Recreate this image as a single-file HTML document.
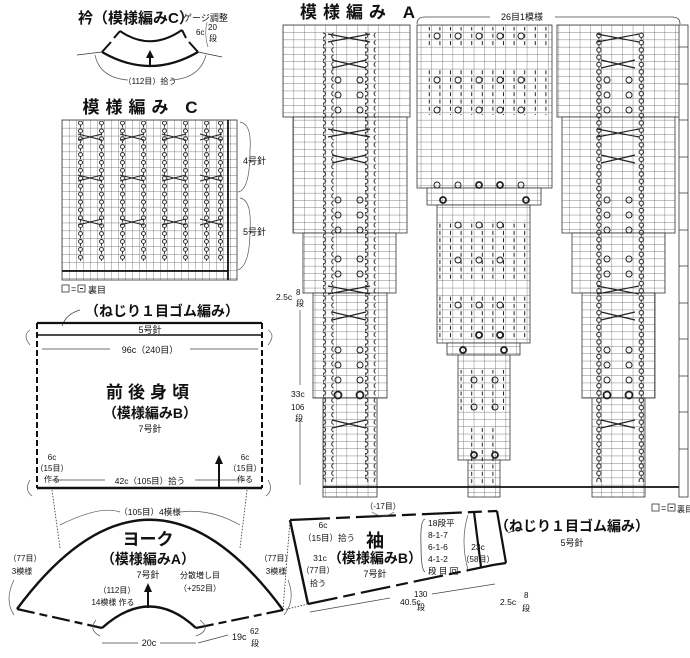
<!DOCTYPE html>
<html><head><meta charset="utf-8"><style>
html,body{margin:0;padding:0;background:#fff;}
svg{display:block;}
text{font-family:"Liberation Sans","Noto Sans CJK JP",sans-serif;fill:#111;}
</style></head><body>
<svg width="690" height="658" viewBox="0 0 690 658" xmlns="http://www.w3.org/2000/svg">
<defs>
<pattern id="ga" x="283" y="25" width="10.6" height="7.3" patternUnits="userSpaceOnUse">
<rect width="10.6" height="7.3" fill="#fff"/>
<path d="M0 0H10.6M0 0V7.3" stroke="#555" stroke-width="0.7" fill="none"/>
</pattern>
<pattern id="gc" x="62" y="120" width="7.0" height="7.9" patternUnits="userSpaceOnUse">
<rect width="7" height="7.9" fill="#fff"/>
<path d="M0 0H7M0 0V7.9" stroke="#555" stroke-width="0.7" fill="none"/>
</pattern>
<pattern id="tw" x="0" y="25" width="10.6" height="7.3" patternUnits="userSpaceOnUse">
<circle cx="5.3" cy="3" r="2.2" fill="none" stroke="#222" stroke-width="1"/>
<path d="M5.3 5.2V7" stroke="#222" stroke-width="1"/>
</pattern>
<pattern id="twc" x="0" y="120" width="7" height="7.9" patternUnits="userSpaceOnUse">
<circle cx="3.5" cy="3" r="2" fill="none" stroke="#222" stroke-width="0.9"/>
<path d="M3.5 5V7.5" stroke="#222" stroke-width="0.9"/>
</pattern>
<pattern id="ticks" x="0" y="25" width="10.6" height="7.3" patternUnits="userSpaceOnUse">
<path d="M5.3 1.5V5.5" stroke="#222" stroke-width="1"/>
</pattern>
</defs>

<!-- ===== Collar ===== -->
<text x="78" y="23" font-size="15" font-weight="bold">衿（模様編みC）</text>
<text x="183" y="21" font-size="9">ゲージ調整</text>
<path d="M120 31 Q150 52 182 30" fill="none" stroke="#111" stroke-width="2"/>
<path d="M102 52 Q150 80 198 52" fill="none" stroke="#111" stroke-width="2.2"/>
<path d="M102 52 L111 42 M114 38 L120 31 M198 52 L189 42 M186 38 L182 30" stroke="#111" stroke-width="2"/>
<path d="M77 55 L102 52 M198 52 L222 57" stroke="#333" stroke-width="0.8"/>
<path d="M95 55 Q100 78 128 80 M172 80 Q200 78 206 55" fill="none" stroke="#555" stroke-width="0.7"/>
<path d="M150 65 V56" stroke="#111" stroke-width="2"/><path d="M146 58 L150 50 L154 58Z" fill="#111"/>
<text x="150" y="84" font-size="8" text-anchor="middle">（112目）拾う</text>
<text x="196" y="35" font-size="8">6c</text>
<text x="208" y="30" font-size="8">20</text><text x="209" y="41" font-size="8">段</text>
<path d="M207 22 Q204 35 208 47" fill="none" stroke="#555" stroke-width="0.6"/>

<!-- ===== Pattern C ===== -->
<text x="143" y="113" font-size="17" font-weight="bold" text-anchor="middle" letter-spacing="6">模様編み C</text>
<rect x="62" y="120" width="175" height="160" fill="url(#gc)" stroke="#333" stroke-width="0.8"/>
<path d="M228 120 V280" stroke="#111" stroke-width="1.8"/>
<path d="M62 271 H228" stroke="#111" stroke-width="1.8"/>
<g>
<rect x="76" y="121" width="7" height="140" fill="url(#twc)"/>
<rect x="97" y="121" width="7" height="140" fill="url(#twc)"/>
<rect x="118" y="121" width="7" height="140" fill="url(#twc)"/>
<rect x="139" y="121" width="7" height="140" fill="url(#twc)"/>
<rect x="160" y="121" width="7" height="140" fill="url(#twc)"/>
<rect x="181" y="121" width="7" height="140" fill="url(#twc)"/>
<rect x="202" y="121" width="7" height="140" fill="url(#twc)"/>
<rect x="216" y="121" width="7" height="140" fill="url(#twc)"/>
</g>
<path d="M78 134 L102 140 M78 140 L102 134 M120 134 L144 140 M120 140 L144 134 M162 134 L186 140 M162 140 L186 134 M200 134 L222 140 M200 140 L222 134
M78 175 L102 181 M78 181 L102 175 M120 175 L144 181 M120 181 L144 175 M162 175 L186 181 M162 181 L186 175 M200 175 L222 181 M200 181 L222 175
M78 219 L102 225 M78 225 L102 219 M120 219 L144 225 M120 225 L144 219 M162 219 L186 225 M162 225 L186 219 M200 219 L222 225 M200 225 L222 219" stroke="#222" stroke-width="1"/>
<path d="M240 122 Q252 124 250 150 Q250 190 238 192 M240 198 Q252 200 250 230 Q250 265 238 270" fill="none" stroke="#555" stroke-width="0.7"/>
<text x="243" y="164" font-size="9">4号針</text>
<text x="243" y="235" font-size="9">5号針</text>
<rect x="62" y="285" width="7" height="7" fill="none" stroke="#333" stroke-width="0.8"/>
<text x="71" y="292" font-size="9">=</text>
<rect x="78" y="285" width="7" height="7" fill="none" stroke="#333" stroke-width="0.8"/><path d="M80 288.5H83" stroke="#222"/>
<text x="88" y="293" font-size="9">裏目</text>

<!-- ===== Body ===== -->
<text x="85" y="316" font-size="14" font-weight="bold">（ねじり１目ゴム編み）</text>
<path d="M80 310 Q66 314 62 326" fill="none" stroke="#444" stroke-width="0.7"/>
<path d="M37 323 H262" stroke="#111" stroke-width="2.2"/>
<path d="M37 335 H262" stroke="#111" stroke-width="1.6"/>
<path d="M37 488 H262" stroke="#111" stroke-width="2.4"/>
<path d="M37 323 V488 M262 323 V488" stroke="#111" stroke-width="2" stroke-dasharray="6 3"/>
<text x="150" y="333" font-size="9" text-anchor="middle">5号針</text>
<path d="M42 349 H110 M190 349 H258" stroke="#444" stroke-width="0.7"/>
<text x="150" y="353" font-size="9" text-anchor="middle">96c（240目）</text>
<text x="150" y="398" font-size="17" font-weight="bold" text-anchor="middle" letter-spacing="5">前後身頃</text>
<text x="150" y="418" font-size="14" font-weight="bold" text-anchor="middle">（模様編みB）</text>
<text x="150" y="432" font-size="9" text-anchor="middle">7号針</text>
<text x="52" y="460" font-size="8" text-anchor="middle">6c</text>
<text x="52" y="471" font-size="8" text-anchor="middle">（15目）</text>
<text x="52" y="482" font-size="8" text-anchor="middle">作る</text>
<text x="245" y="460" font-size="8" text-anchor="middle">6c</text>
<text x="245" y="471" font-size="8" text-anchor="middle">（15目）</text>
<text x="245" y="482" font-size="8" text-anchor="middle">作る</text>
<path d="M52 480 H105 M195 480 H245" stroke="#444" stroke-width="0.7"/>
<text x="150" y="484" font-size="8.5" text-anchor="middle">42c（105目）拾う</text>
<path d="M219 488 V462" stroke="#111" stroke-width="2"/><path d="M215 464 L219 455 L223 464Z" fill="#111"/>
<path d="M30 480 Q24 490 32 496 M268 480 Q274 490 266 496 M30 330 Q22 335 30 345 M268 330 Q276 335 268 345" fill="none" stroke="#555" stroke-width="0.7"/>
<path d="M52 490 L60 548 M247 490 L240 548" stroke="#333" stroke-width="0.8" stroke-dasharray="1.5 1.5"/>

<!-- ===== Yoke ===== -->
<path d="M17 609 Q150 430 283 610" fill="none" stroke="#111" stroke-width="2.4"/>
<path d="M102 628 Q150 585 196 628" fill="none" stroke="#111" stroke-width="2.4"/>
<path d="M17 609 L102 628 M196 628 L283 610" stroke="#111" stroke-width="2.2" stroke-dasharray="18 5 8 5"/>
<path d="M60 525 Q100 505 120 512 M180 512 Q210 508 240 525" fill="none" stroke="#555" stroke-width="0.7"/>
<text x="150" y="515" font-size="8.5" text-anchor="middle">（105目）4模様</text>
<text x="148" y="545" font-size="17" font-weight="bold" text-anchor="middle">ヨーク</text>
<text x="148" y="564" font-size="14" font-weight="bold" text-anchor="middle">（模様編みA）</text>
<text x="148" y="578" font-size="9" text-anchor="middle">7号針</text>
<text x="200" y="578" font-size="8" text-anchor="middle">分散増し目</text>
<text x="200" y="591" font-size="8" text-anchor="middle">（+252目）</text>
<text x="117" y="593" font-size="8" text-anchor="middle">（112目）</text>
<text x="113" y="605" font-size="8" text-anchor="middle">14模様 作る</text>
<path d="M148 608 V590" stroke="#111" stroke-width="2"/><path d="M144 592 L148 583 L152 592Z" fill="#111"/>
<text x="25" y="561" font-size="8" text-anchor="middle">（77目）</text>
<text x="22" y="574" font-size="8" text-anchor="middle">3模様</text>
<text x="276" y="561" font-size="8" text-anchor="middle">（77目）</text>
<text x="276" y="574" font-size="8" text-anchor="middle">3模様</text>
<path d="M14 580 Q4 600 14 615 M288 580 Q296 600 284 615 M96 620 Q88 630 100 636 M200 620 Q212 630 196 636" fill="none" stroke="#555" stroke-width="0.7"/>
<path d="M102 643 H138 M160 643 H196" stroke="#444" stroke-width="0.7"/>
<text x="149" y="646" font-size="9" text-anchor="middle">20c</text>
<path d="M198 643 L228 635" stroke="#444" stroke-width="0.7"/>
<text x="232" y="640" font-size="9">19c</text>
<text x="250" y="634" font-size="8">62</text><text x="251" y="646" font-size="8">段</text>

<!-- ===== Sleeve ===== -->
<path d="M290 520 L308 604" stroke="#111" stroke-width="2.4"/>
<path d="M290 520 L497 511" stroke="#111" stroke-width="2.2" stroke-dasharray="40 6 14 6"/>
<path d="M308 604 L493 565" stroke="#111" stroke-width="2.2" stroke-dasharray="30 6 12 6"/>
<path d="M474 512 L481 567 M497 511 L506 563 M493 565 L506 563" stroke="#111" stroke-width="2.2"/>
<path d="M283 610 L308 604 M283 610 L290 520" stroke="#333" stroke-width="0.8" stroke-dasharray="1.5 1.5"/>
<text x="383" y="509" font-size="8" text-anchor="middle">（-17目）</text>
<path d="M372 512 Q383 520 394 512" fill="none" stroke="#555" stroke-width="0.7"/>
<text x="323" y="528" font-size="8.5" text-anchor="middle">6c</text>
<text x="329" y="541" font-size="8.5" text-anchor="middle">（15目）拾う</text>
<text x="375" y="547" font-size="18" font-weight="bold" text-anchor="middle">袖</text>
<text x="375" y="563" font-size="14" font-weight="bold" text-anchor="middle">（模様編みB）</text>
<text x="375" y="577" font-size="9" text-anchor="middle">7号針</text>
<text x="320" y="561" font-size="8.5" text-anchor="middle">31c</text>
<text x="318" y="573" font-size="8" text-anchor="middle">（77目）</text>
<text x="318" y="586" font-size="8" text-anchor="middle">拾う</text>
<path d="M425 519 Q420 520 421 545 Q421 570 425 572" fill="none" stroke="#444" stroke-width="0.8"/>
<text x="428" y="526" font-size="8.5">18段平</text>
<text x="428" y="538" font-size="8.5">8-1-7</text>
<text x="428" y="550" font-size="8.5">6-1-6</text>
<text x="428" y="562" font-size="8.5">4-1-2</text>
<text x="428" y="574" font-size="8.5">段 目 回</text>
<text x="478" y="550" font-size="8.5" text-anchor="middle">23c</text>
<text x="478" y="562" font-size="8" text-anchor="middle">（58目）</text>
<path d="M468 515 Q460 540 468 570" fill="none" stroke="#555" stroke-width="0.7"/>
<path d="M310 612 L390 598 M432 594 L495 584" stroke="#444" stroke-width="0.7"/>
<text x="400" y="605" font-size="8.5">40.5c</text>
<text x="414" y="597" font-size="8">130</text><text x="417" y="610" font-size="8">段</text>
<text x="500" y="605" font-size="8.5">2.5c</text>
<text x="524" y="598" font-size="8">8</text><text x="522" y="611" font-size="8">段</text>
<text x="572" y="531" font-size="14" font-weight="bold" text-anchor="middle">（ねじり１目ゴム編み）</text>
<path d="M508 533 L520 528" stroke="#444" stroke-width="0.7"/>
<text x="572" y="546" font-size="9" text-anchor="middle">5号針</text>
<rect x="652" y="504" width="7" height="7" fill="none" stroke="#333" stroke-width="0.8"/>
<text x="661" y="511" font-size="9">=</text>
<rect x="668" y="504" width="7" height="7" fill="none" stroke="#333" stroke-width="0.8"/><path d="M670 507.5H673" stroke="#222"/>
<text x="677" y="512" font-size="8">裏目</text>

<!-- ===== Pattern A ===== -->
<text x="300" y="18" font-size="17" font-weight="bold" letter-spacing="6">模様編み A</text>
<path d="M417 24 Q417 17 425 17 H490 M555 17 H672 Q680 17 680 24" fill="none" stroke="#444" stroke-width="0.8"/>
<text x="522" y="20" font-size="9" text-anchor="middle">26目1模様</text>
<g stroke="#333" stroke-width="0.8" fill="url(#ga)">
<rect x="283" y="25" width="127" height="92"/>
<rect x="293" y="117" width="114" height="116"/>
<rect x="303" y="233" width="93" height="60"/>
<rect x="313" y="293" width="74" height="105"/>
<rect x="323" y="398" width="54" height="99"/>
<rect x="417" y="25" width="135" height="163"/>
<rect x="427" y="188" width="114" height="17"/>
<rect x="437" y="205" width="93" height="138"/>
<rect x="447" y="343" width="73" height="12"/>
<rect x="458" y="355" width="52" height="105"/>
<rect x="468" y="460" width="32" height="37"/>
<rect x="557" y="25" width="123" height="92"/>
<rect x="562" y="117" width="113" height="116"/>
<rect x="572" y="233" width="93" height="60"/>
<rect x="582" y="293" width="73" height="105"/>
<rect x="592" y="398" width="53" height="99"/>
</g>
<g>
<rect x="323" y="32" width="10.6" height="450" fill="url(#tw)"/>
<rect x="365" y="32" width="10.6" height="450" fill="url(#tw)"/>
<rect x="592" y="32" width="10.6" height="450" fill="url(#tw)"/>
<rect x="634" y="32" width="10.6" height="450" fill="url(#tw)"/>
</g>
<path d="M328 34 L370 42 M328 42 L370 34 M332 60 L366 68 M332 68 L366 60 M328 129 L370 137 M328 137 L370 129 M332 155 L366 163 M332 163 L366 155 M328 286 L370 294 M328 294 L370 286 M332 312 L366 320 M332 320 L366 312 M332 420 L366 428 M332 428 L366 420
M597 34 L639 42 M597 42 L639 34 M601 60 L635 68 M601 68 L635 60 M597 129 L639 137 M597 137 L639 129 M601 155 L635 163 M601 163 L635 155 M597 286 L639 294 M597 294 L639 286 M601 312 L635 320 M601 320 L635 312 M601 420 L635 428 M601 428 L635 420" stroke="#222" stroke-width="1.2"/>
<g fill="none" stroke="#222" stroke-width="1">
<circle cx="338" cy="80" r="3"/><circle cx="360" cy="80" r="3"/><circle cx="338" cy="95" r="3"/><circle cx="360" cy="95" r="3"/><circle cx="338" cy="110" r="3"/><circle cx="360" cy="110" r="3"/>
<circle cx="338" cy="200" r="3"/><circle cx="360" cy="200" r="3"/><circle cx="338" cy="215" r="3"/><circle cx="360" cy="215" r="3"/><circle cx="338" cy="230" r="3"/><circle cx="360" cy="230" r="3"/>
<circle cx="338" cy="259" r="3"/><circle cx="360" cy="259" r="3"/><circle cx="338" cy="274" r="3"/><circle cx="360" cy="274" r="3"/>
<circle cx="338" cy="350" r="3"/><circle cx="360" cy="350" r="3"/><circle cx="338" cy="365" r="3"/><circle cx="360" cy="365" r="3"/><circle cx="338" cy="380" r="3"/><circle cx="360" cy="380" r="3"/><circle cx="338" cy="395" r="3.5" stroke-width="1.8"/><circle cx="360" cy="395" r="3.5" stroke-width="1.8"/>
<circle cx="607" cy="80" r="3"/><circle cx="629" cy="80" r="3"/><circle cx="607" cy="95" r="3"/><circle cx="629" cy="95" r="3"/><circle cx="607" cy="110" r="3"/><circle cx="629" cy="110" r="3"/>
<circle cx="607" cy="200" r="3"/><circle cx="629" cy="200" r="3"/><circle cx="607" cy="215" r="3"/><circle cx="629" cy="215" r="3"/><circle cx="607" cy="230" r="3"/><circle cx="629" cy="230" r="3"/>
<circle cx="607" cy="259" r="3"/><circle cx="629" cy="259" r="3"/><circle cx="607" cy="274" r="3"/><circle cx="629" cy="274" r="3"/>
<circle cx="607" cy="350" r="3"/><circle cx="629" cy="350" r="3"/><circle cx="607" cy="365" r="3"/><circle cx="629" cy="365" r="3"/><circle cx="607" cy="380" r="3"/><circle cx="629" cy="380" r="3"/><circle cx="607" cy="395" r="3.5" stroke-width="1.8"/><circle cx="629" cy="395" r="3.5" stroke-width="1.8"/>
</g>
<g>
<rect x="422" y="27" width="125" height="20" fill="url(#ticks)"/>
<rect x="422" y="70" width="125" height="45" fill="url(#ticks)"/>
<rect x="437" y="220" width="90" height="60" fill="url(#ticks)"/>
<rect x="437" y="295" width="90" height="45" fill="url(#ticks)"/>
<rect x="458" y="370" width="50" height="40" fill="url(#ticks)"/>
<rect x="468" y="425" width="30" height="60" fill="url(#ticks)"/>
</g>
<g fill="none" stroke="#222" stroke-width="1">
<circle cx="437" cy="36" r="3"/><circle cx="458" cy="36" r="3"/><circle cx="479" cy="36" r="3"/><circle cx="500" cy="36" r="3"/><circle cx="521" cy="36" r="3"/>
<circle cx="437" cy="80" r="3"/><circle cx="458" cy="80" r="3"/><circle cx="479" cy="80" r="3"/><circle cx="500" cy="80" r="3"/><circle cx="521" cy="80" r="3"/>
<circle cx="437" cy="110" r="3"/><circle cx="458" cy="110" r="3"/><circle cx="479" cy="110" r="3"/><circle cx="500" cy="110" r="3"/><circle cx="521" cy="110" r="3"/>
<circle cx="437" cy="185" r="3"/><circle cx="458" cy="185" r="3"/><circle cx="479" cy="185" r="3" stroke-width="1.8"/><circle cx="500" cy="185" r="3" stroke-width="1.8"/><circle cx="521" cy="185" r="3"/>
<circle cx="443" cy="200" r="3" stroke-width="1.8"/><circle cx="526" cy="200" r="3" stroke-width="1.8"/>
<circle cx="458" cy="225" r="3"/><circle cx="479" cy="225" r="3"/><circle cx="500" cy="225" r="3"/>
<circle cx="458" cy="260" r="3"/><circle cx="479" cy="260" r="3"/><circle cx="500" cy="260" r="3"/>
<circle cx="458" cy="305" r="3"/><circle cx="479" cy="305" r="3"/><circle cx="500" cy="305" r="3"/>
<circle cx="479" cy="335" r="3" stroke-width="1.8"/><circle cx="500" cy="335" r="3" stroke-width="1.8"/>
<circle cx="463" cy="350" r="3" stroke-width="1.8"/><circle cx="504" cy="350" r="3" stroke-width="1.8"/>
<circle cx="474" cy="380" r="3"/><circle cx="495" cy="380" r="3"/>
<circle cx="474" cy="407" r="3"/><circle cx="495" cy="407" r="3"/>
<circle cx="474" cy="455" r="3" stroke-width="1.8"/><circle cx="495" cy="455" r="3" stroke-width="1.8"/>
</g>
<path d="M323 487 H680" stroke="#111" stroke-width="1.8"/>
<rect x="679" y="25" width="9" height="472" fill="#fff" stroke="#333" stroke-width="0.8"/>
<path d="M679 47 H688 M679 84 H688 M679 120 H688 M679 157 H688 M679 193 H688 M679 230 H688 M679 266 H688 M679 303 H688 M679 339 H688 M679 376 H688 M679 412 H688 M679 449 H688" stroke="#333" stroke-width="0.7"/>
<text x="276" y="300" font-size="8.5">2.5c</text>
<text x="296" y="295" font-size="8">8</text><text x="296" y="306" font-size="8">段</text>
<path d="M300 310 V385 M300 420 V485" stroke="#444" stroke-width="0.7"/>
<text x="291" y="397" font-size="8.5">33c</text>
<text x="291" y="410" font-size="8">106</text>
<text x="295" y="421" font-size="8">段</text>
</svg>
</body></html>
